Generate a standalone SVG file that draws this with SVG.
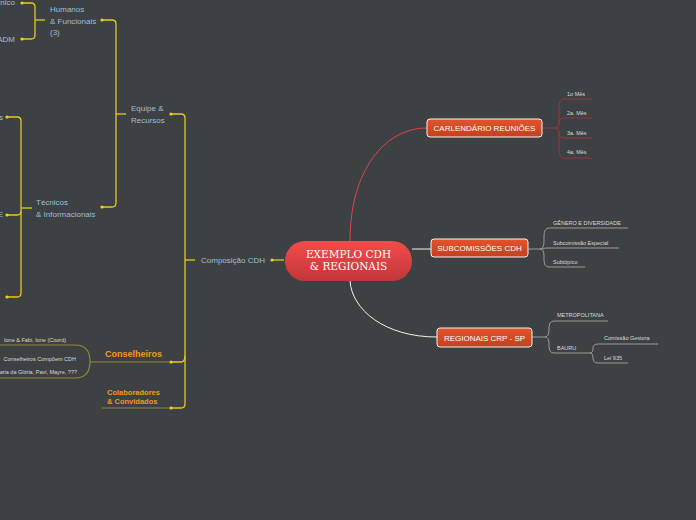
<svg xmlns="http://www.w3.org/2000/svg" width="696" height="520" viewBox="0 0 696 520">
<defs>
<linearGradient id="gc" x1="0" y1="0" x2="0" y2="1"><stop offset="0" stop-color="#f44b4b"/><stop offset="1" stop-color="#c13739"/></linearGradient>
<linearGradient id="go" x1="0" y1="0" x2="0" y2="1"><stop offset="0" stop-color="#e4532b"/><stop offset="1" stop-color="#c2401f"/></linearGradient>
<style>
.bg{fill:#3e4143}
.lb{font-family:"Liberation Sans",Arial,sans-serif;font-size:8px;fill:#9dbfd4}
.sm{font-family:"Liberation Sans",Arial,sans-serif;font-size:5.5px;fill:#d8d8d8}
.og{font-family:"Liberation Sans",Arial,sans-serif;font-weight:bold;fill:#f0991e}
.bx{fill:url(#go);stroke:#f4f4f4;stroke-width:1}
.bt{font-family:"Liberation Sans",Arial,sans-serif;font-size:8px;fill:#ffffff}
.yl{fill:none;stroke:#e3c920;stroke-width:1.3}
.ol{fill:none;stroke:#8e8739;stroke-width:1.2}
.rd{fill:none;stroke:#d9474a;stroke-width:1}
.dr{fill:none;stroke:#8c3b3b;stroke-width:1}
.wh{fill:none;stroke:#f2f2f2;stroke-width:1}
.gr{fill:none;stroke:#9a9a9a;stroke-width:1}
.dot{fill:#f0d21e}
</style>
</defs>
<rect class="bg" x="0" y="0" width="696" height="520"/>

<g id="connectors">
  <path class="yl" d="M284,260 H272"/>
  <circle class="dot" cx="272" cy="260" r="1.6"/>
  <path class="yl" d="M195,260 H185"/>
  <path class="yl" d="M171,114 H181 Q185,114 185,118 V404 Q185,408 181,408 H171"/>
  <path class="yl" d="M185,356 Q185,362 181,362 H171"/>
  <circle class="dot" cx="171" cy="114" r="1.6"/>
  <circle class="dot" cx="171" cy="362" r="1.6"/>
  <circle class="dot" cx="171" cy="408" r="1.6"/>
  <path class="ol" d="M90,362 H170"/>
  <path class="ol" d="M102,408 H170"/>
  <path class="ol" d="M0,345 H75 Q90,345 90,361.5 Q90,378 75,378 H0"/>
  <path class="yl" d="M126,114 H116"/>
  <path class="yl" d="M102,20 H112 Q116,20 116,24 V203 Q116,207 112,207 H102"/>
  <circle class="dot" cx="102" cy="20" r="1.6"/>
  <circle class="dot" cx="102" cy="207" r="1.6"/>
  <path class="yl" d="M45,20 H35"/>
  <path class="yl" d="M22,3 H31 Q35,3 35,7 V35 Q35,39 31,39 H22"/>
  <circle class="dot" cx="22" cy="3" r="1.6"/>
  <circle class="dot" cx="22" cy="39" r="1.6"/>
  <path class="yl" d="M32,208 H21"/>
  <path class="yl" d="M7,117 H17 Q21,117 21,121 V293 Q21,297 17,297 H7"/>
  <path class="yl" d="M21,211 Q21,215 17,215 H7"/>
  <circle class="dot" cx="7" cy="117" r="1.6"/>
  <circle class="dot" cx="7" cy="215" r="1.6"/>
  <circle class="dot" cx="7" cy="297" r="1.6"/>

  <path class="rd" d="M350,241 C350,170 385,128 427,128"/>
  <path class="wh" d="M412,249 H431"/>
  <path class="wh" d="M350,281 C352,310 385,337 437,337"/>
  <path class="dr" d="M542,128 H555"/>
  <path class="dr" d="M555,128 Q559,128 559,120 V107 Q559,99 564,99 H592"/>
  <path class="dr" d="M555,128 Q559,128 559,123 Q559,118 564,118 H592"/>
  <path class="dr" d="M555,128 Q559,128 559,133 Q559,138 564,138 H592"/>
  <path class="dr" d="M555,128 Q559,128 559,136 V150 Q559,158 564,158 H592"/>
  <path class="gr" d="M528,249 H540"/>
  <path class="gr" d="M540,249 Q544,249 544,241 V236 Q544,228 549,228 H628"/>
  <path class="gr" d="M540,249 Q544,249 544,248.5 Q544,248 549,248 H619"/>
  <path class="gr" d="M540,249 Q544,249 544,256 V260 Q544,267 549,267 H585"/>
  <path class="gr" d="M532,337 H545"/>
  <path class="gr" d="M545,337 Q549,337 549,330 V328 Q549,321 554,321 H608"/>
  <path class="gr" d="M545,337 Q549,337 549,344 V346 Q549,353 554,353 H590"/>
  <path class="gr" d="M590,353 Q593,353 593,348 Q593,344 598,344 H658"/>
  <path class="gr" d="M590,353 Q593,353 593,358 Q593,363 598,363 H628"/>
</g>

<g id="central">
  <rect x="285" y="241" width="127" height="40" rx="20" fill="url(#gc)"/>
  <text x="348.5" y="258" text-anchor="middle" font-family="'DejaVu Serif','Liberation Serif',serif" font-size="10.5" fill="#ffffff">EXEMPLO CDH</text>
  <text x="348.5" y="270" text-anchor="middle" font-family="'DejaVu Serif','Liberation Serif',serif" font-size="10.5" fill="#ffffff">&amp; REGIONAIS</text>
</g>

<g id="composicao"><text class="lb" x="201" y="263">Composição CDH</text></g>
<g id="equipe"><text class="lb" x="131" y="111">Equipe &amp;</text><text class="lb" x="131" y="123">Recursos</text></g>
<g id="humanos"><text class="lb" x="50" y="12">Humanos</text><text class="lb" x="50" y="24">&amp; Funcionais</text><text class="lb" x="50" y="35">(3)</text></g>
<g id="tecnico-h"><text class="lb" x="15" y="5" text-anchor="end">Técnico</text></g>
<g id="adm"><text class="lb" x="15" y="42" text-anchor="end">ADM</text></g>
<g id="tecnicos"><text class="lb" x="36" y="205">Técnicos</text><text class="lb" x="36" y="217">&amp; Informacionais</text></g>
<g id="t1"><text class="lb" x="3" y="120" text-anchor="end">s</text></g>
<g id="t2"><text class="lb" x="3" y="217" text-anchor="end">E</text></g>
<g id="conselheiros"><text class="og" font-size="9" x="105" y="357">Conselheiros</text></g>
<g id="ione"><text class="sm" font-size="6.2" x="4" y="342">Ione &amp; Fabi, Ione  (Coord)</text></g>
<g id="compoem"><text class="sm" font-size="6.2" x="76" y="361" text-anchor="end">Conselheiros Compõem CDH</text></g>
<g id="nomes"><text class="sm" font-size="4.6" x="77" y="374" text-anchor="end">Cheryl, Maria da Glória, Pavi, Mayre,  ???</text></g>
<g id="colaboradores"><text class="og" font-size="7.5" x="107" y="395">Colaboradores</text><text class="og" font-size="7.5" x="107" y="404">&amp; Convidados</text></g>

<g id="calendario">
  <rect class="bx" x="427" y="119" width="115" height="18" rx="3"/>
  <text class="bt" x="484.5" y="131" text-anchor="middle">CARLENDÁRIO REUNIÕES</text>
</g>
<g id="mes1"><text class="sm" x="567" y="96">1o Mês</text></g>
<g id="mes2"><text class="sm" x="567" y="115">2a. Mês</text></g>
<g id="mes3"><text class="sm" x="567" y="135">3a. Mês</text></g>
<g id="mes4"><text class="sm" x="567" y="154">4a. Mês</text></g>

<g id="subcomissoes">
  <rect class="bx" x="431" y="239" width="97" height="18" rx="3"/>
  <text class="bt" x="479.5" y="251" text-anchor="middle">SUBCOMISSÕES CDH</text>
</g>
<g id="genero"><text class="sm" x="553" y="224.5">GÊNERO E DIVERSIDADE</text></g>
<g id="subesp"><text class="sm" x="553" y="245">Subcomissão Especial</text></g>
<g id="subtopico"><text class="sm" x="553" y="264">Subtópico</text></g>

<g id="regionais">
  <rect class="bx" x="437" y="328" width="95" height="19" rx="3"/>
  <text class="bt" x="484.5" y="340.5" text-anchor="middle">REGIONAIS CRP - SP</text>
</g>
<g id="metropolitana"><text class="sm" x="557" y="317">METROPOLITANA</text></g>
<g id="bauru"><text class="sm" x="557" y="350">BAURU</text></g>
<g id="comissao"><text class="sm" x="604" y="340">Comissão Gestora</text></g>
<g id="lei"><text class="sm" x="604" y="359.5">Lei 935</text></g>
</svg>
